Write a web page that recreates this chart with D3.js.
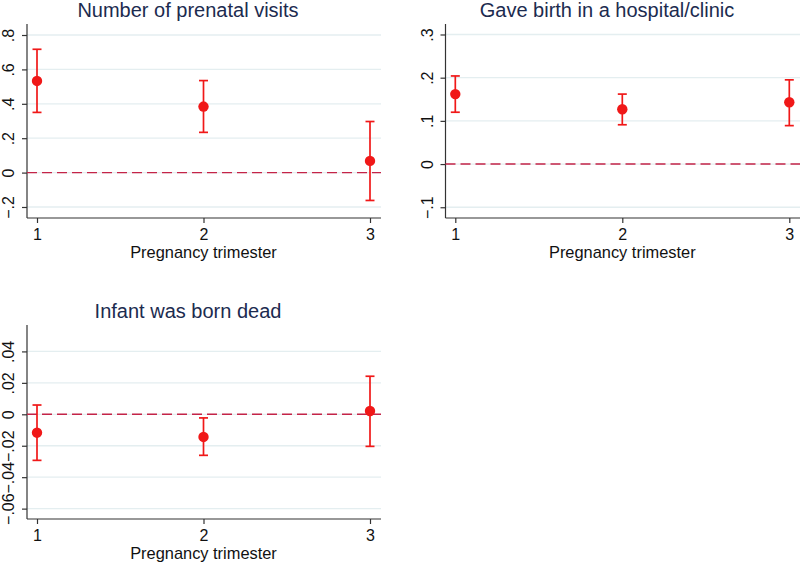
<!DOCTYPE html>
<html><head><meta charset="utf-8">
<script src="https://cdn.jsdelivr.net/npm/d3@7"></script>
<style>body{margin:0;background:#fff}svg{display:block}</style>
</head><body>
<script>
const trimesters = [1, 2, 3];
const titles = ["Number of prenatal visits", "Gave birth in a hospital/clinic", "Infant was born dead"];
const xLabel = "Pregnancy trimester";

const prenatalEst = [0.533, 0.384, 0.068];
const prenatalLo = [0.350, 0.234, -0.162];
const prenatalHi = [0.717, 0.535, 0.297];

const hospitalEst = [0.162, 0.127, 0.143];
const hospitalLo = [0.120, 0.091, 0.089];
const hospitalHi = [0.204, 0.162, 0.195];

const deadEst = [-0.0117, -0.0144, 0.0021];
const deadLo = [-0.0293, -0.0261, -0.0204];
const deadHi = [0.0059, -0.0023, 0.0242];

const prenatalTicks = [-0.2, 0, 0.2, 0.4, 0.6, 0.8];
const prenatalTickLabels = ["\u2212.2", "0", ".2", ".4", ".6", ".8"];
const hospitalTicks = [-0.1, 0, 0.1, 0.2, 0.3];
const hospitalTickLabels = ["\u2212.1", "0", ".1", ".2", ".3"];
const deadTicks = [-0.06, -0.04, -0.02, 0, 0.02, 0.04];
const deadTickLabels = ["\u2212.06", "\u2212.04", "\u2212.02", "0", ".02", ".04"];

const panels = [
  {title: titles[0], est: prenatalEst, lo: prenatalLo, hi: prenatalHi, ticks: prenatalTicks, labels: prenatalTickLabels,
   domain: [-0.264, 0.864], ox: 0, oy: 0, axisX: 27, x1: 37, x3: 370, right: 381, titleX: 188},
  {title: titles[1], est: hospitalEst, lo: hospitalLo, hi: hospitalHi, ticks: hospitalTicks, labels: hospitalTickLabels,
   domain: [-0.1249, 0.3243], ox: 400, oy: 0, axisX: 45.5, x1: 55.3, x3: 389.3, right: 400, titleX: 207},
  {title: titles[2], est: deadEst, lo: deadLo, hi: deadHi, ticks: deadTicks, labels: deadTickLabels,
   domain: [-0.0666, 0.0568], ox: 0, oy: 301, axisX: 27, x1: 37, x3: 370, right: 381, titleX: 188}
];

const svg = d3.select("body").append("svg").attr("width", 800).attr("height", 562);
const font = "'Liberation Sans', Arial, sans-serif";
const plotTop = 24, plotBottom = 218;

panels.forEach(p => {
  const g = svg.append("g").attr("transform", `translate(${p.ox},${p.oy})`);
  const x = d3.scaleLinear().domain([1, 3]).range([p.x1, p.x3]);
  const y = d3.scaleLinear().domain(p.domain).range([plotBottom, plotTop]);

  g.selectAll(".grid").data(p.ticks).join("line")
    .attr("x1", p.axisX).attr("x2", p.right)
    .attr("y1", d => y(d)).attr("y2", d => y(d))
    .attr("stroke", "#e4eef0").attr("stroke-width", 1.3);

  const yAxis = d3.axisLeft(y).tickValues(p.ticks).tickSize(5)
    .tickFormat((d, i) => p.labels[i]);
  const ya = g.append("g").attr("transform", `translate(${p.axisX},0)`).call(yAxis);
  ya.select(".domain").attr("d", `M0,${plotTop}V${plotBottom}`).attr("stroke", "#333").attr("stroke-width", 1.2);
  ya.selectAll(".tick line").attr("stroke", "#333").attr("stroke-width", 1.2);
  ya.selectAll(".tick text")
    .attr("font-family", font).attr("font-size", 16).attr("fill", "#111")
    .attr("text-anchor", "middle").attr("dy", null)
    .attr("transform", "rotate(-90)")
    .attr("x", 0).attr("y", -13);

  const xAxis = d3.axisBottom(x).tickValues(trimesters).tickSize(5).tickFormat(d3.format("d"));
  const xa = g.append("g").attr("transform", `translate(0,${plotBottom})`).call(xAxis);
  xa.select(".domain").attr("d", `M${p.axisX},0H${p.right}`).attr("stroke", "#333").attr("stroke-width", 1.2);
  xa.selectAll(".tick line").attr("stroke", "#333").attr("stroke-width", 1.2);
  xa.selectAll(".tick text").attr("font-family", font).attr("font-size", 16).attr("fill", "#111")
    .attr("y", 22).attr("dy", null);

  g.append("text").attr("x", (p.x1 + p.x3) / 2).attr("y", 258).attr("text-anchor", "middle")
    .attr("font-family", font).attr("font-size", 16.4).attr("fill", "#111").text(xLabel);

  g.append("text").attr("x", p.titleX).attr("y", 16.5).attr("text-anchor", "middle")
    .attr("font-family", font).attr("font-size", 20).attr("fill", "#1c2b4f").text(p.title);

  g.append("line").attr("x1", p.axisX).attr("x2", p.right).attr("y1", y(0)).attr("y2", y(0))
    .attr("stroke", "#c42448").attr("stroke-width", 1.4).attr("stroke-dasharray", "10,5");

  const red = "#f01818";
  const data = trimesters.map((t, i) => ({t, e: p.est[i], lo: p.lo[i], hi: p.hi[i]}));
  const eb = g.append("g");
  eb.selectAll(".v").data(data).join("line")
    .attr("x1", d => x(d.t)).attr("x2", d => x(d.t)).attr("y1", d => y(d.lo)).attr("y2", d => y(d.hi))
    .attr("stroke", red).attr("stroke-width", 1.7);
  eb.selectAll(".ch").data(data).join("line")
    .attr("x1", d => x(d.t) - 4.5).attr("x2", d => x(d.t) + 4.5).attr("y1", d => y(d.hi)).attr("y2", d => y(d.hi))
    .attr("stroke", red).attr("stroke-width", 1.7);
  eb.selectAll(".cl").data(data).join("line")
    .attr("x1", d => x(d.t) - 4.5).attr("x2", d => x(d.t) + 4.5).attr("y1", d => y(d.lo)).attr("y2", d => y(d.lo))
    .attr("stroke", red).attr("stroke-width", 1.7);
  g.selectAll(".pt").data(data).join("circle")
    .attr("cx", d => x(d.t)).attr("cy", d => y(d.e)).attr("r", 5.2).attr("fill", red);
});
</script>
</body></html>
